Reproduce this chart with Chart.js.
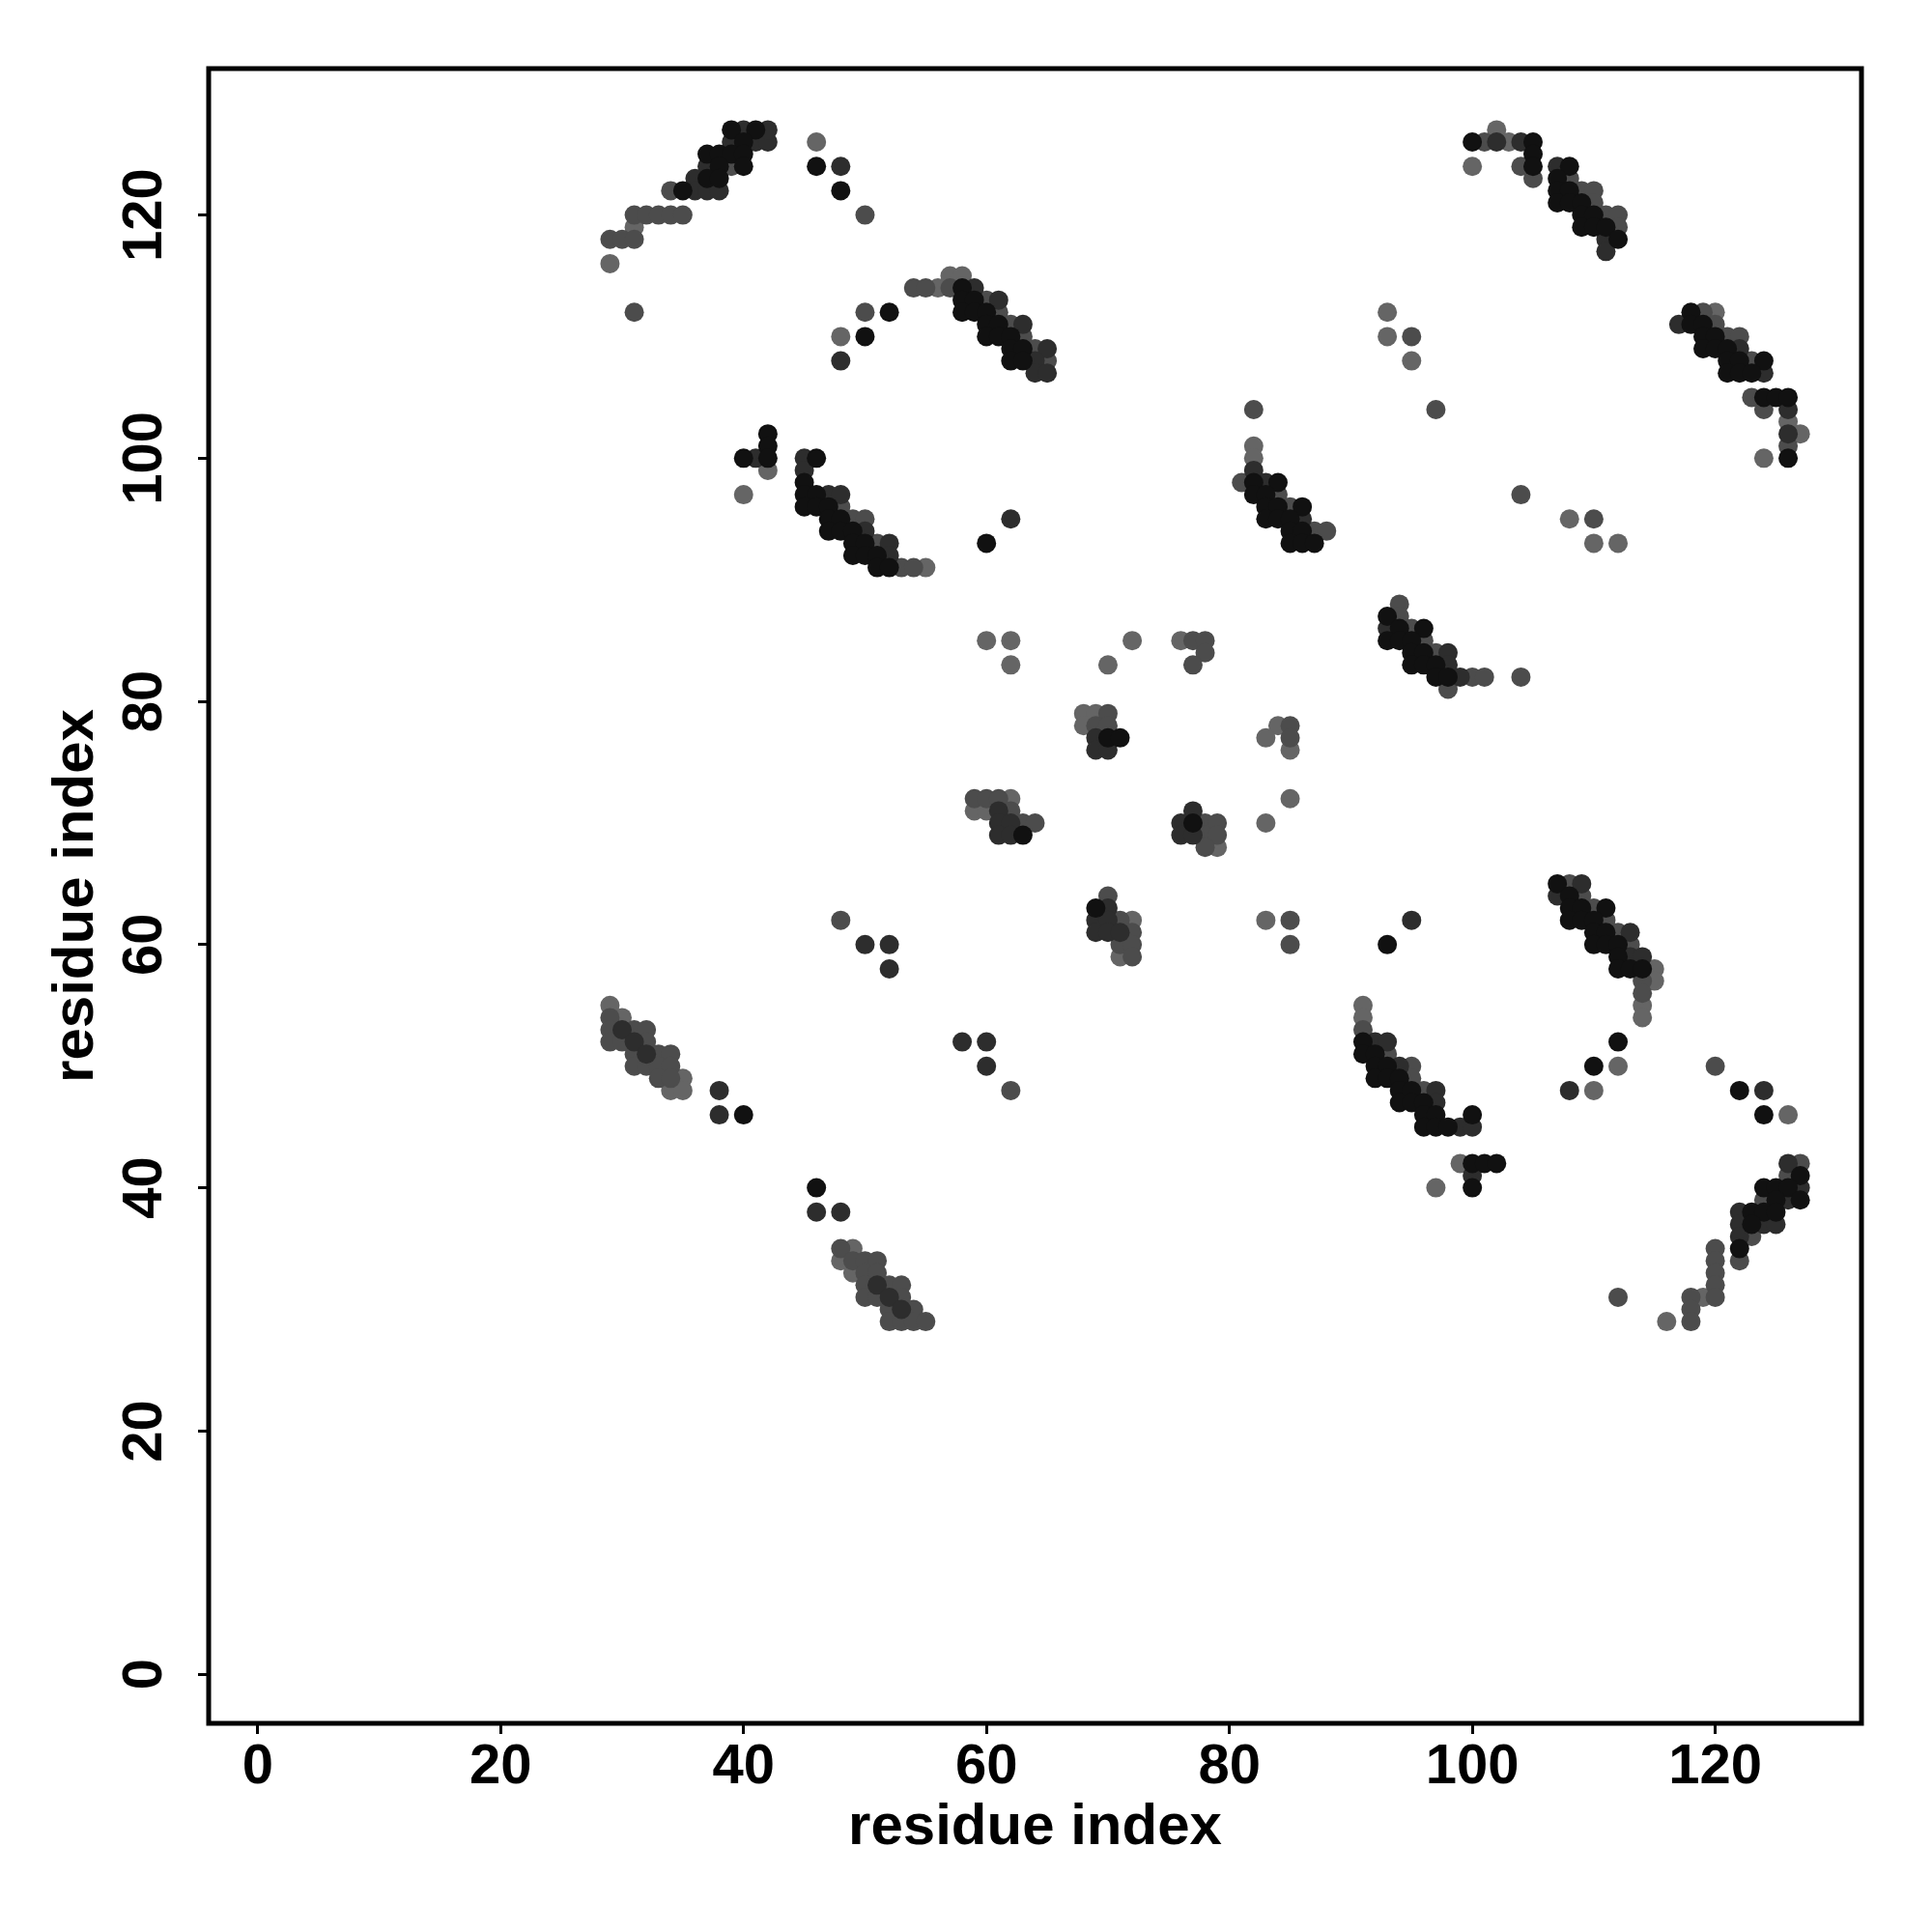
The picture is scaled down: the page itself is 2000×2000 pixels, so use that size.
<!DOCTYPE html>
<html>
<head>
<meta charset="utf-8">
<title>residue contact map</title>
<script src="https://cdn.jsdelivr.net/npm/chart.js@4/dist/chart.umd.min.js"></script>
<style>
  html, body { margin: 0; padding: 0; background: #fff; }
  #wrap { width: 2000px; height: 2000px; }
</style>
</head>
<body>
<div id="wrap"><canvas id="contactChart" width="2000" height="2000"></canvas></div>
<script>
// contact pairs [i, j], grouped by how dark the dot is drawn
const contactsBlack = [
  [39,127],[41,127],[40,126],[37,125],[38,125],[39,125],[40,125],[38,124],[40,124],[37,123],[38,123],[35,122],
  [46,124],[48,122],[52,112],[50,110],
  [58,114],[58,113],[59,113],[58,112],[59,112],[60,112],[60,111],[61,111],[60,110],[61,110],[62,110],
  [62,109],[63,109],[62,108],[63,108],
  [42,102],[42,101],[40,100],[42,100],[46,100],[45,98],[45,97],[46,97],[45,96],[46,96],[47,96],
  [47,95],[48,95],[47,94],[48,94],[49,94],[49,93],[50,93],[49,92],[50,92],[51,92],[51,91],[52,91],[60,93],
  [82,98],[84,98],[82,97],[83,97],[83,96],[84,96],[86,96],[83,95],[84,95],[85,95],[85,94],[86,94],
  [85,93],[86,93],[87,93],
  [100,126],[105,126],[105,125],[105,124],[108,124],[107,123],[107,122],[108,122],[107,121],[108,121],[109,121],
  [109,120],[110,120],[109,119],[110,119],[111,119],[112,118],
  [118,112],[118,111],[119,111],[119,110],[120,110],[119,109],[120,109],[121,109],[121,108],[122,108],[124,108],
  [121,107],[122,107],[123,107],[124,105],[125,105],[126,105],[126,100],
  [93,87],[94,86],[96,86],[93,85],[94,85],[95,85],[95,84],[96,84],[95,83],[96,83],[97,83],[97,82],[98,82],
  [70,77],[71,77],[63,69],[77,70],[69,63],
  [93,60],[91,52],[91,51],[92,51],[92,50],[93,50],[92,49],[93,49],[94,49],[94,48],[95,48],[94,47],[95,47],[96,47],
  [96,46],[97,46],[100,46],[96,45],[97,45],[98,45],[100,42],[101,42],[102,42],[100,40],
  [107,65],[108,64],[108,63],[109,63],[111,63],[108,62],[109,62],[110,62],[110,61],[111,61],
  [110,60],[111,60],[112,60],[112,59],[112,58],[113,58],[114,58],[112,52],[110,50],
  [40,46],[46,40],
  [122,48],[124,46],[127,41],[124,40],[125,40],[126,40],[125,39],[127,39],[123,38],[124,38],[125,38],[123,37],[122,35]
];

const contactsDark = [
  [40,127],[39,126],[41,126],[42,126],[42,127],[37,124],[36,123],[36,122],[37,122],[38,122],
  [48,124],[48,108],[59,114],[61,113],[63,111],[65,109],[64,108],[64,107],[65,107],
  [41,100],[45,100],[45,99],[47,97],[48,97],[50,94],[52,93],[52,92],[62,95],
  [82,99],[83,98],[86,95],[117,111],
  [102,126],[104,126],[107,124],[111,118],[111,117],
  [122,109],[124,107],[126,104],[126,102],
  [93,86],[98,84],[98,83],[99,82],
  [69,77],[69,76],[70,76],[61,71],[61,70],[62,70],[61,69],[62,69],
  [77,71],[76,70],[76,69],[77,69],[70,63],[69,62],[70,62],[69,61],[70,61],[71,61],
  [95,62],[92,52],[93,52],[94,50],[97,48],[97,47],[99,45],[100,45],[100,41],
  [109,65],[107,64],[113,61],[113,59],[114,59],[108,48],
  [50,60],[52,60],[52,58],[38,48],[38,46],
  [30,53],[31,52],[32,51],
  [58,52],[60,52],[60,50],[46,38],[48,38],[51,32],[52,31],[53,30],
  [124,48],[126,42],[127,40],[126,39],[122,38],[122,37],[124,37],[125,37],[122,36]
];

const contactsMid = [
  [39,124],[34,122],[31,120],[32,120],[33,120],[34,120],[35,120],[29,118],[30,118],[31,118],[31,112],[50,120],
  [50,112],[54,114],[55,114],[57,114],[60,113],[61,112],[62,111],[63,110],[64,109],[65,108],
  [48,96],[49,95],[50,95],[51,93],[53,91],[54,91],
  [82,104],[95,110],[97,104],[81,98],[84,97],[85,96],[87,94],[88,94],[104,97],[110,95],
  [101,126],[105,123],[104,124],[108,123],[109,122],[110,122],[110,121],[111,120],[112,120],[112,119],
  [119,112],[120,111],[121,110],[122,110],[123,108],[123,105],[124,104],[126,101],
  [94,88],[94,87],[95,86],[96,85],[97,84],[100,82],[101,82],[98,81],[104,82],
  [77,85],[78,85],[78,84],[77,83],[70,79],[69,78],[70,78],[85,78],[85,77],
  [59,72],[60,72],[61,72],[62,71],[63,70],[64,70],[78,70],[79,70],[78,69],[79,69],[78,68],
  [70,64],[71,62],[72,61],[71,60],[72,60],[72,59],[85,62],[85,60],
  [91,53],[93,51],[95,50],[95,49],[96,48],
  [108,65],[109,64],[110,63],[111,62],[112,61],[113,60],[114,57],[114,56],
  [48,62],[29,54],[29,53],[31,53],[32,53],[29,52],[30,52],[32,52],[31,51],[33,51],[34,51],
  [31,50],[32,50],[33,50],[34,50],[33,49],[34,49],
  [62,48],[48,35],[49,34],[50,34],[51,34],[50,33],[51,33],[50,32],[52,32],[53,32],[50,31],[51,31],[53,31],
  [52,30],[54,30],[52,29],[53,29],[54,29],[55,29],
  [120,50],[127,42],[126,41],[124,39],[123,36],[122,34],
  [120,35],[120,34],[120,33],[120,32],[120,31],[118,31],[118,30],[118,29],[112,31]
];

const contactsLight = [
  [31,119],[29,116],[46,126],[48,110],[56,114],[57,115],[58,115],[42,99],[40,97],[55,91],
  [93,112],[93,110],[95,108],[82,101],[82,100],[108,95],[110,93],[112,93],
  [102,127],[103,126],[100,124],[120,112],[126,103],[127,102],[124,100],
  [60,85],[62,85],[62,83],[72,85],[70,83],[76,85],[68,79],[69,79],[68,78],[84,78],[83,77],[85,76],[85,72],[83,70],
  [59,71],[60,71],[62,72],[79,68],[72,62],[71,59],[83,62],
  [91,55],[91,54],[99,42],[97,40],[115,58],[115,57],[114,55],[114,54],[112,50],[110,48],
  [29,55],[30,54],[35,49],[34,48],[35,48],[49,35],[48,34],[49,33],
  [126,46],[119,31],[116,29]
];

const shadeColors = ['#111111', '#2d2d2d', '#4c4c4c', '#656565'];
const xTickValues = [0, 20, 40, 60, 80, 100, 120];
const yTickValues = [0, 20, 40, 60, 80, 100, 120];
const axisTitle = 'residue index';

const tickFont = { family: 'Liberation Sans, Arial, sans-serif', weight: 'bold', size: 58 };
const titleFont = { family: 'Liberation Sans, Arial, sans-serif', weight: 'bold', size: 60 };

const boxPlugin = {
    id: 'plotBox',
    afterDatasetsDraw(chart) {
        const { ctx, chartArea } = chart;
        ctx.save();
        ctx.strokeStyle = '#000';
        ctx.lineWidth = 5;
        ctx.strokeRect(chartArea.left, chartArea.top, chartArea.right - chartArea.left, chartArea.bottom - chartArea.top);
        ctx.restore();
    }
};

function toPoints(list) {
    return list.map(p => ({ x: p[0], y: p[1] }));
}

const groups = [contactsBlack, contactsDark, contactsMid, contactsLight];

new Chart(document.getElementById('contactChart'), {
    type: 'scatter',
    data: {
        datasets: groups.map((g, i) => ({
            data: toPoints(g),
            backgroundColor: shadeColors[i],
            borderWidth: 0,
            pointRadius: 10,
            pointHoverRadius: 10
        }))
    },
    options: {
        responsive: false,
        animation: false,
        devicePixelRatio: 1,
        layout: { padding: { left: 0, top: 71, right: 73, bottom: 0 } },
        plugins: { legend: { display: false }, tooltip: { enabled: false } },
        scales: {
            x: {
                type: 'linear',
                position: 'bottom',
                min: -4.04,
                max: 132.04,
                afterFit: s => { s.height = 216; },
                afterBuildTicks: s => { s.ticks = xTickValues.map(v => ({ value: v })); },
                ticks: { font: tickFont, color: '#000', padding: 0, minRotation: 0, maxRotation: 0, autoSkip: false },
                grid: { drawOnChartArea: false, drawTicks: true, tickLength: 11, tickWidth: 3, tickColor: '#000' },
                border: { display: false },
                title: { display: true, text: axisTitle, color: '#000', font: titleFont, padding: { top: 0, bottom: 72 } }
            },
            y: {
                type: 'linear',
                position: 'left',
                min: -4.04,
                max: 132.04,
                afterFit: s => { s.width = 216; },
                afterBuildTicks: s => { s.ticks = yTickValues.map(v => ({ value: v })); },
                ticks: { font: tickFont, color: '#000', padding: 6, crossAlign: 'center', minRotation: 90, maxRotation: 90, autoSkip: false },
                grid: { drawOnChartArea: false, drawTicks: true, tickLength: 11, tickWidth: 3, tickColor: '#000' },
                border: { display: false },
                title: { display: true, text: axisTitle, color: '#000', font: titleFont, padding: { top: 43, bottom: 0 } }
            }
        }
    },
    plugins: [boxPlugin]
});
</script>
</body>
</html>
